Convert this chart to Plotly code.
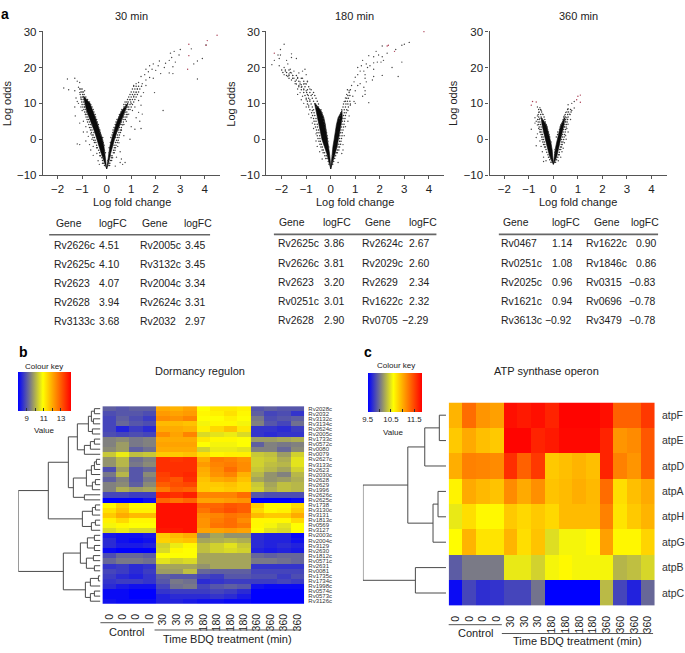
import plotly.graph_objects as go

W, H = 685, 653
TXT = "#222222"
FONT = "Liberation Sans, Arial, sans-serif"

# ---------- panel a: outline of the solid black core of each volcano arm (log odds rows, x read per arm)
y30_left = [-8.3,-6,-4,-2,0,2,4,6,8,10,12]
x30_left_outer = [0,-.13,-.22,-.31,-.39,-.49,-.6,-.72,-.82,-.89,-.95]
x30_left_inner = [0,-.04,-.07,-.11,-.17,-.26,-.36,-.46,-.56,-.68,-.93]
y30_right = [-8.3,-6,-4,-2,0,2,4,6,8,10]
x30_right_inner = [0,.05,.08,.13,.2,.28,.37,.48,.62,.85]
x30_right_outer = [0,.1,.16,.23,.32,.42,.52,.64,.76,.87]

y180_left = [-8.3,-6,-4,-2,0,2,4,6,8,10]
x180_left_outer = [0,-.08,-.16,-.26,-.36,-.42,-.48,-.54,-.6,-.66]
x180_left_inner = [0,-.02,-.05,-.09,-.13,-.17,-.22,-.28,-.4,-.64]
y180_right = [-8.3,-6,-4,-2,0,2,4,6,8]
x180_right_inner = [0,.03,.06,.09,.14,.18,.23,.3,.44]
x180_right_outer = [0,.1,.18,.26,.33,.37,.42,.47,.46]

y360_left = [-7,-5,-3,-1,0,2,4,6]
x360_left_outer = [0,-.14,-.22,-.3,-.34,-.4,-.46,-.5]
x360_left_inner = [0,-.02,-.05,-.1,-.13,-.2,-.28,-.48]
y360_right = [-7,-5,-3,-1,0,2,4,6]
x360_right_inner = [0,.03,.07,.13,.16,.22,.3,.45]
x360_right_outer = [0,.13,.2,.27,.31,.37,.43,.47]

# ---------- panel a: stippled halo around the arms, (log odds, [log fold changes])
halo30 = [(-7.3,[-.09,.06,.12,-.05]),(-6.7,[-.12,.13,-.17,.09]),(-5.9,[-.17,.16,.05,.2]),(-5.2,[-.2,-.14,.19,.24]),(-4.6,[-.25,-.28,.22,.17]),(-3.8,[-.29,-.05,.1,.27,.31]),(-3.1,[-.33,-.09,.28,.34]),(-2.4,[-.38,-.41,.31,.36,.1]),(-1.7,[-.41,-.11,.3,.38]),(-0.9,[-.44,-.5,-.14,.15,.36,.43]),(-0.3,[-.47,-.53,-.17,.4,.47]),(0.5,[-.5,-.56,-.16,.17,.43,.5,.36]),(1.2,[-.55,-.6,-.24,.22,.44,.52]),(1.9,[-.52,-.62,-.27,.25,.5,.56]),(2.6,[-.6,-.66,-.28,.26,.47,.55,.6]),(3.3,[-.64,-.7,-.33,.3,.52,.6]),(4.1,[-.65,-.73,-.34,.35,.55,.62,.7]),(4.8,[-.7,-.78,-.38,.38,.6,.68]),(5.5,[-.74,-.8,-.41,.42,.62,.7,.76]),(6.2,[-.77,-.84,-.45,.5,.68,.75,.82]),(6.9,[-.8,-.87,-.47,.52,.7,.8,.86]),(7.6,[-.83,-.9,-.52,.58,.74,.82]),(8.3,[-.85,-.93,-.55,.62,.78,.88,.95]),(9,[-.9,-.97,-.6,.7,.8,.9,1.0,.75]),(9.7,[-.92,-1.0,-.65,.7,.85,.95,1.05,.78]),(10.4,[-.95,-1.02,-.7,.75,.88,.98,1.1,.82]),(11.1,[-.96,-1.04,-.78,.85,.95,1.05,1.15]),(11.8,[-.98,-1.05,-.85,.9,1.0,1.1,1.2]),(12.5,[-.98,-1.08,-.92,.95,1.05,1.15,1.25]),(13.2,[-1.0,-.95,-1.05,1.0,1.1,1.2,1.3]),(14,[-1.05,-1.1,1.05,1.15,1.25,1.35]),(14.8,[1.1,1.2,1.3,1.42])]
halo180 = [(-7,[-.07,.08]),(-6.2,[-.1,.12,.05]),(-5.4,[-.15,-.2,.16]),(-4.6,[-.18,-.24,.2,.07]),(-3.8,[-.25,-.31,.23,.27]),(-3,[-.3,-.35,.27,.33]),(-2.2,[-.34,-.4,-.08,.3,.36]),(-1.4,[-.38,-.44,.33,.4]),(-.6,[-.42,-.48,-.12,.36,.42]),(.2,[-.44,-.52,-.13,.36,.44]),(1,[-.45,-.55,-.15,.37,.46]),(1.8,[-.48,-.56,-.17,.4,.47]),(2.6,[-.5,-.58,-.2,.42,.5]),(3.4,[-.54,-.62,-.22,.44,.52]),(4.2,[-.55,-.65,-.24,.46,.54]),(5,[-.6,-.68,-.28,.47,.56]),(5.8,[-.6,-.7,-.3,.5,.58,.35]),(6.6,[-.65,-.74,-.33,.52,.6,.38]),(7.4,[-.68,-.78,-.36,.55,.63,.42]),(8.2,[-.7,-.85,-.4,.55,.45,.65]),(9,[-.75,-.9,-.5,-.58,.5,.6,.72]),(9.8,[-.8,-.95,-.5,-.62,.52,.62,.7,.8]),(10.6,[-.85,-.95,-.55,-.7,.6,.68,.78]),(11.4,[-.9,-1,-.6,-.75,.65,.72]),(12.2,[-.92,-1.05,-.65,-.8,.7,.78]),(13,[-.98,-1.1,-.7,-.85,.75]),(13.8,[-.95,-1.1,-.8,-1.2,.8,.68]),(14.6,[-1.05,-1.18,-.9,-1.3]),(15.4,[-1.1,-1.25,-1.0,-1.4]),(16.2,[-1.1,-1.3,-1.45,-.95]),(17,[-1.35,-1.55,-1.2,-1.7]),(17.8,[-1.55,-1.7,-1.8,-1.4]),(18.6,[-1.8,-1.65,-1.95]),(19.3,[-1.85,-2.0,-1.7])]
halo360 = [(-6.4,[-.1,.09,-.05,.05]),(-5.7,[-.15,.13,-.08,.08]),(-5,[-.2,.18,-.12]),(-4.3,[-.22,.2,.24,.05]),(-3.6,[-.27,.24,.06]),(-2.9,[-.3,.26,.3,.07]),(-2.2,[-.32,-.36,.29,.33]),(-1.5,[-.35,-.4,.32,.36]),(-.8,[-.37,-.43,-.1,.34,.39]),(-.1,[-.4,-.46,.34,.42]),(.6,[-.42,-.48,-.15,.37,.44,.12]),(1.3,[-.45,-.5,-.18,.38,.46,.17]),(2,[-.47,-.53,-.2,.4,.48,.18]),(2.7,[-.5,-.55,-.24,.42,.5,.25]),(3.4,[-.5,-.58,-.26,.45,.52,.28]),(4.1,[-.52,-.6,-.3,.47,.54,.32]),(4.8,[-.55,-.62,-.33,.38,.5,.56]),(5.5,[-.58,-.64,-.35,-.45,.4,.5,.58]),(6.2,[-.6,-.5,-.38,.42,.5,.6]),(6.9,[-.62,-.52,-.42,.48,.58,.68]),(7.6,[-.58,-.48,.55,.62,.72]),(8.3,[-.6,-.52,.58,.7])]

# ---------- panel a: individual sparse points
sparse30 = [(4.05,26.3),(3.45,25.2),(3.9,22.5),(3.7,21.8),(3.55,21),(3.7,16.8),(3.0,25),(2.75,24.5),(2.6,24),(2.95,23.5),(2.65,22.8),(2.55,22),(2.8,21.5),(2.4,21.2),(2.15,21.8),(2.35,20),(2.7,20.2),(2.55,18.5),(2.7,18.3),(2.1,20.5),(1.9,21),(1.85,19.5),(1.75,20.5),(2.0,19.2),(2.2,18.3),(1.7,18.8),(1.6,19.5),(1.55,18),(1.4,17.5),(1.75,17.2),(2.3,8),(1.95,13),(1.6,15),(1.5,13),(1.4,12),(1.3,15.8),(1.2,15.5),(1.1,15),(1.25,14),(1.45,15.5),(1.6,16.5),(1.9,17),(1.2,13),(1.3,10.8),(1.4,9.5),(1.15,9),(1.3,7.5),(1.45,7),(1.2,6),(1.35,5),(1.4,3),(1.15,2.8),(0.95,0),(1.0,3.5),(0.9,7),(1.05,8),(0.95,11),(1.1,12),(1.0,10),(0.85,9),(0.8,5),(0.75,7.5),(0.65,4),(0.6,2.5),(0.7,1),(0.5,-1),(0.55,-3.5),(0.6,-5.5),(0.75,-6.5),(0.65,-7),(0.55,-6.5),(0.4,-5),(0.35,-7.5),(.45,-2),
            (-1.6,16.8),(-1.75,14.3),(-1.55,13.8),(-1.3,17),(-1.2,16.2),(-1.1,15.8),(-1.15,14.5),(-1.3,13.5),(-1.1,13),(-1.25,11.5),(-1.05,11.5),(-1.2,10.5),(-1.15,10),(-1.3,9),(-1.28,6.5),(-1.0,8),(-1.1,4.5),(-0.95,5),(-0.95,2),(-.85,3.5),(-1.2,-1.3),(-1.1,-1.5),(-0.85,-.5),(-.75,.8),(-.7,-1.5),(-.65,-3),(-.55,-2),(-.55,-4.5),(-.4,-4),(-.35,-6),(-.3,-7),(-1.0,14),(-.9,13.5),(-1.05,9),(-.85,7),(-.9,9),(-.8,2),(-.65,1.5),(-.6,4),(-.6,0)]
red30 = [(4.5,29),(4.1,27.5),(3.35,26.5),(3.35,23.3),(3.3,19.5),(4.05,26.2)]

sparse180 = [(3.2,27),(3.0,26.5),(2.9,26.2),(2.1,26),(2.65,25),(2.3,24),(1.85,24.5),(1.95,23.5),(2.1,23),(1.75,23),(1.55,23.3),(2.15,22),(2.05,21.5),(2.9,21.5),(1.9,21.5),(1.75,21.3),(1.3,22),(1.45,21),(1.6,20.5),(1.25,20.5),(1.5,20),(2.5,20),(1.75,19.5),(1.1,20),(1.2,19),(1.35,19),(1.4,18),(1.1,18),(2.1,17.8),(2.75,17.5),(1.75,17.5),(1.7,16.5),(1.4,17),(1,17.3),(0.95,16),(1.2,15.5),(1.45,16),(0.85,15),(1.1,15),(1.35,14.5),(1.4,13.5),(1.0,13.5),(0.75,13.5),(0.65,12.5),(1.4,12.5),(0.6,11.5),(0.9,12),(1.3,12),(0.55,10.5),(0.95,10.5),(1.55,10.2),(0.8,9.5),(1.0,10),(0.7,8),(0.75,6.5),(0.7,5),(0.6,3.5),(0.55,1),(.5,-1.5),(.45,-4),(.3,-6.5),(.5,-3),
             (-2.4,20.8),(-2.05,25),(-1.9,26.5),(-2.15,23.5),(-2.05,23.5),(-2.3,22),(-2.1,22.5),(-1.6,23.8),(-1.6,22.8),(-1.4,22.5),(-1.8,22),(-1.75,21),(-2.1,20.5),(-1.9,20),(-1.85,19),(-1.9,18),(-1.65,19.5),(-1.6,18.5),(-1.5,19),(-1.75,17.5),(-1.5,17),(-1.6,16.5),(-1.3,18.5),(-1.05,19.5),(-1.15,19),(-1.0,18),(-1.4,16.5),(-1.25,16),(-1.45,15.5),(-1.15,17),(-1.3,15),(-1.2,14.5),(-1.05,15.5),(-.95,16),(-1.1,14),(-1.25,13),(-1.0,13.5),(-1.35,12.5),(-1.15,12),(-1.2,11),(-1.0,11),(-.85,11),(-1.1,10),(-0.9,9.5),(-1.0,9),(-.9,7),(-.8,6),(-.75,4.5),(-.7,3),(-.6,1.5),(-.6,-.5),(-.55,-2),(-.45,-3.5),(-.35,-5.5),(-.75,8),(-1.7,18.2),(-1.55,17.8),(-1.35,17.2),(-1.2,15.2),(-1.35,14),(-.95,12.5),(-.85,14),(-.75,12.5)]
red180 = [(3.85,31),(3.8,30),(2.35,26.2),(2.3,26),(2.6,24.5),(-2.3,24)]

sparse360 = [(0.85,10.5),(0.75,10),(.6,9.6),(.85,8.7),(.75,8),(.6,8.5),(.5,7.5),(.65,7),(.45,6.5),(.55,6),(.7,5.5),(.5,5),(.6,4.2),(.45,3.5),(.55,3),(.6,2),(.5,1),(.52,0),(.45,-1),(.4,-2.5),(.35,-3.5),(.3,-5),(.2,-6),
             (-.65,9),(-.55,8.8),(-.5,8),(-.6,7.5),(-.45,7),(-.65,6.5),(-.75,6),(-.55,5.8),(-.7,5),(-.65,4),(-.75,4.5),(-.6,3),(-.55,2),(-.65,1.5),(-.9,2.8),(-.7,0.5),(-.55,-.5),(-.7,-1.8),(-.5,-2),(-.45,-3.5),(-.4,-5),(-.4,-6.2),(-.3,-6)]
red360 = [(1.1,12.3),(1.0,12),(1.1,10.3),(.95,11),(-.85,10.5),(-.9,9.5),(-.7,10.4)]

# ---------- tables
table30_gene1 = ["Rv2626c","Rv2625c","Rv2623","Rv2628","Rv3133c"]
table30_fc1 = ["4.51","4.10","4.07","3.94","3.68"]
table30_gene2 = ["Rv2005c","Rv3132c","Rv2004c","Rv2624c","Rv2032"]
table30_fc2 = ["3.45","3.45","3.34","3.31","2.97"]
table180_gene1 = ["Rv2625c","Rv2626c","Rv2623","Rv0251c","Rv2628"]
table180_fc1 = ["3.86","3.81","3.20","3.01","2.90"]
table180_gene2 = ["Rv2624c","Rv2029c","Rv2629","Rv1622c","Rv0705"]
table180_fc2 = ["2.67","2.60","2.34","2.32","\u22122.29"]
table360_gene1 = ["Rv0467","Rv0251c","Rv2025c","Rv1621c","Rv3613c"]
table360_fc1 = ["1.14","1.08","0.96","0.94","\u22120.92"]
table360_gene2 = ["Rv1622c","Rv1846c","Rv0315","Rv0696","Rv3479"]
table360_fc2 = ["0.90","0.86","\u22120.83","\u22120.78","\u22120.78"]

# ---------- heatmaps
time_labels = ["0","0","0","0","30","30","30","180","180","180","180","360","360","360","360"]
dormancy_genes = ["Rv2028c","Rv2032","Rv3132c","Rv3134c","Rv2624c","Rv2005c","Rv1733c","Rv0572c","Rv0080","Rv0079","Rv2627c","Rv3133c","Rv2623","Rv2030c","Rv2628","Rv2629","Rv1996","Rv2626c","Rv2625c","Rv1738","Rv3130c","Rv3131","Rv1813c","Rv0569","Rv3127","Rv2003c","Rv2004c","Rv3129","Rv2630","Rv1812c","Rv0571c","Rv2631","Rv0081","Rv1735c","Rv1734c","Rv1998c","Rv0574c","Rv0573c","Rv3126c"]
dormancy_values = [
 [9.1,9.0,9.1,9.1, 12.0,11.9,12.1, 10.9,11.2,11.2,11.1, 9.0,9.1,9.0,9.0],
 [8.9,9.0,9.0,8.9, 12.2,12.1,12.2, 11.0,11.1,11.3,11.0, 9.1,8.8,8.9,8.6],
 [8.8,9.1,8.9,8.7, 12.4,12.3,12.5, 10.9,10.9,11.1,10.9, 9.4,8.9,9.0,9.1],
 [8.8,9.2,9.0,8.9, 11.8,11.8,11.7, 10.8,11.0,11.0,10.8, 9.5,9.0,8.8,9.3],
 [8.8,8.4,8.7,8.5, 12.0,12.0,11.9, 11.1,11.4,11.7,11.2, 8.6,8.6,8.5,8.7],
 [8.9,8.8,8.9,8.8, 12.4,12.1,12.5, 10.5,10.6,10.7,10.5, 8.6,8.5,8.6,8.6],
 [9.5,9.6,9.4,9.5, 12.0,12.0,12.0, 11.2,11.0,11.0,10.9, 9.8,9.8,9.9,10.0],
 [9.5,9.8,9.4,9.5, 12.1,12.1,12.1, 10.9,10.8,10.8,10.9, 9.1,9.5,9.4,9.5],
 [9.6,9.8,9.1,9.3, 12.0,12.0,12.0, 10.4,10.7,10.7,10.6, 9.5,9.5,9.2,9.6],
 [10.3,10.7,10.2,10.3, 11.6,11.6,11.7, 11.3,11.0,11.1,11.1, 10.3,10.2,9.8,10.4],
 [9.7,10.1,9.3,9.5, 13.6,13.5,13.6, 12.0,12.6,12.5,12.3, 10.4,10.3,10.0,10.6],
 [9.7,10.1,9.4,9.6, 13.6,13.6,13.6, 12.2,12.5,12.6,12.4, 10.4,10.2,10.1,10.6],
 [8.9,9.8,9.0,9.2, 13.6,13.6,13.6, 12.0,12.4,12.8,12.4, 10.3,10.1,9.9,10.4],
 [9.4,10.1,9.0,9.6, 13.4,13.6,13.7, 11.9,12.3,12.5,11.9, 10.1,9.7,9.5,10.1],
 [9.1,9.5,9.0,9.4, 13.3,13.1,13.6, 11.7,12.0,12.1,11.7, 9.9,9.7,9.8,10.0],
 [9.5,9.6,9.1,9.6, 13.0,13.2,13.3, 11.6,11.6,11.7,11.5, 10.3,9.9,10.2,10.1],
 [9.5,10.0,9.8,9.9, 12.6,13.0,12.9, 11.6,11.5,11.6,11.5, 10.4,10.0,10.2,10.1],
 [8.8,8.8,8.7,8.7, 13.7,13.6,13.8, 12.5,12.5,12.5,12.8, 9.0,8.9,8.9,8.9],
 [8.0,8.0,8.0,8.2, 12.9,12.7,12.9, 12.1,12.1,12.2,12.3, 8.0,8.0,8.0,8.1],
 [11.0,11.5,11.0,11.0, 14.0,14.0,14.0, 12.9,12.9,13.1,13.0, 11.6,11.0,11.0,11.4],
 [11.3,11.7,11.1,11.1, 14.0,14.0,14.0, 12.7,13.0,13.2,13.0, 11.4,11.0,11.1,11.6],
 [11.6,12.0,11.8,11.8, 14.0,14.0,14.0, 12.4,12.5,12.7,12.6, 11.8,11.6,11.6,12.0],
 [11.1,11.4,11.0,11.0, 14.0,14.0,14.0, 12.3,12.6,12.8,12.4, 11.0,11.0,11.0,11.4],
 [10.8,11.0,10.9,10.9, 14.0,14.0,14.0, 12.3,12.7,12.8,12.6, 11.0,10.8,10.6,10.9],
 [10.5,10.7,10.5,10.5, 13.9,13.9,14.0, 12.1,12.1,12.2,12.1, 10.9,10.6,10.5,10.9],
 [8.3,8.2,8.2,8.3, 11.6,11.8,12.0, 9.6,9.9,9.7,9.7, 8.5,8.4,8.4,8.1],
 [8.5,8.2,8.1,8.2, 11.5,11.6,11.7, 9.9,10.0,10.1,10.0, 8.5,8.4,8.4,8.2],
 [8.5,8.3,8.3,8.4, 10.4,10.7,11.0, 10.2,10.4,10.6,10.3, 8.5,8.4,8.5,8.4],
 [8.1,8.0,8.0,8.0, 10.5,11.0,10.9, 10.2,10.4,10.5,10.4, 8.4,8.3,8.4,8.3],
 [8.9,9.2,9.2,9.1, 10.9,10.9,10.9, 9.9,9.9,9.9,9.9, 9.2,9.1,9.2,9.2],
 [9.2,9.4,9.4,9.3, 10.6,10.4,10.5, 9.9,9.9,9.9,9.9, 9.4,9.4,9.3,9.2],
 [8.6,8.7,8.5,8.6, 9.9,9.9,9.9, 9.7,9.9,9.9,9.9, 8.6,8.6,8.6,8.6],
 [8.8,8.7,8.5,8.7, 9.8,9.8,10.2, 9.2,9.1,9.1,9.1, 8.8,8.8,8.8,8.8],
 [8.7,8.5,8.4,8.6, 9.1,9.0,9.0, 8.8,8.7,9.0,9.0, 8.9,8.9,8.7,8.9],
 [8.6,8.7,8.7,8.6, 9.0,9.4,9.3, 8.5,8.6,8.7,8.7, 8.7,8.7,8.8,8.7],
 [8.5,8.3,8.2,8.2, 8.8,9.3,9.4, 8.8,9.0,9.1,9.0, 8.2,8.1,8.1,8.1],
 [8.1,8.1,8.0,8.0, 8.6,8.7,8.7, 8.7,8.8,8.7,8.5, 8.0,8.0,8.0,8.0],
 [8.1,8.1,8.0,8.0, 8.4,8.5,8.5, 8.5,8.6,8.5,8.3, 8.0,8.0,8.0,8.0],
 [8.2,8.1,8.1,8.1, 8.4,8.4,8.3, 8.2,8.2,8.1,8.1, 8.0,8.0,8.0,8.0],
]
atp_genes = ["atpF","atpE","atpD","atpA","atpH","atpG","atpB","atpC"]
atp_values = [
 [10.95,11.3,11.1,11.05, 11.75,11.7,11.75, 11.65,11.8,11.8,11.8, 11.75, 11.35,11.35,11.55],
 [10.85,11.0,10.9,10.85, 11.8,11.8,11.65, 11.7,11.78,11.78,11.78, 11.65, 11.1,11.15,11.4],
 [10.98,11.2,11.18,11.15, 11.6,11.35,11.55, 10.85,10.9,10.95,10.9, 11.65, 11.2,11.1,11.4],
 [10.65,11.0,10.93,10.88, 11.15,11.0,11.13, 10.88,10.92,10.98,10.93, 11.3, 10.75,10.9,11.0],
 [10.5,10.75,10.62,10.62, 10.85,10.78,10.85, 10.78,10.92,10.92,10.92, 11.2, 10.72,10.85,10.95],
 [10.6,10.95,10.72,10.72, 10.95,10.75,10.88, 10.45,10.55,10.55,10.62, 11.05, 10.63,10.63,10.8],
 [9.9,10.03,10.03,10.03, 10.5,10.5,10.4, 10.55,10.62,10.55,10.55, 10.55, 10.28,10.32,10.42],
 [9.55,9.8,9.7,9.72, 9.8,9.8,10.0, 9.5,9.5,9.5,9.5, 10.3, 9.8,9.65,9.95],
]
dormancy_tree = (82,
  (52,
    (32,
      (23,
        (12,(9,(6,0,1),(7,2,3)),(8,4,5)),
        (16,(10,(6,6,7),8),9)),
      (27,
        (14,(9,(6,(4,10,11),12),13),(8,(5,14,15),16)),
        (16,17,18))),
    (18,(8,(5,19,20),21),(9,(5,22,23),24))),
  (37,
    (20,(13,(6,25,26),(6,27,28)),(14,(7,29,30),(6,31,32))),
    (15,(10,(2,33,34),35),(10,(6,36,37),38))))
atp_tree = (83.3,
  (38.3,(21.3,(6.7,0,1),2),(13,(8,3,4),5)),
  (30.7,6,7))

colorscale = [[0,"#0000ff"],[0.24,"#808080"],[0.47,"#ffff00"],[1,"#ff0000"]]


def fx(p): return p / W
def fy(p): return 1 - p / H


fig = go.Figure()
annotations = []
shapes = []


def text(x, y, s, size=11, anchor="center", bold=False, angle=0, color=TXT):
    annotations.append(dict(x=fx(x), y=fy(y), xref="paper", yref="paper", text=f"<b>{s}</b>" if bold else s,
                            showarrow=False, xanchor=anchor, yanchor="middle", textangle=angle,
                            font=dict(size=size, color=color, family=FONT)))


def rule(x0, x1, y, color="#555555", width=1.0):
    shapes.append(dict(type="line", xref="paper", yref="paper", x0=fx(x0), x1=fx(x1), y0=fy(y), y1=fy(y),
                       line=dict(color=color, width=width)))


def pair(pts):
    return [p[0] for p in pts], [p[1] for p in pts]


def expand(rows):
    return [x for _, xs in rows for x in xs], [y for y, xs in rows for _ in xs]


# ---------- volcano panels
volcano_geom = [(43, 107, 221, 132, 7, "30 min"), (267, 331.7, 445, 356, 232, "180 min"), (491, 555, 669, 580, 455, "360 min")]
volcano_data = [
    ([(x30_left_outer, x30_left_inner, y30_left), (x30_right_inner, x30_right_outer, y30_right)], halo30, sparse30, red30),
    ([(x180_left_outer, x180_left_inner, y180_left), (x180_right_inner, x180_right_outer, y180_right)], halo180, sparse180, red180),
    ([(x360_left_outer, x360_left_inner, y360_left), (x360_right_inner, x360_right_outer, y360_right)], halo360, sparse360, red360),
]
layout_axes = {}
PXU = 24.6
for i, ((left, zero, right, center, ylab, title), (core, halo, sparse, red)) in enumerate(zip(volcano_geom, volcano_data), start=1):
    xa, ya = f"x{i}", f"y{i}"
    for c0, c1, cy in core:
        fig.add_trace(go.Scatter(x=c0 + c1[::-1], y=cy + cy[::-1], xaxis=xa, yaxis=ya, mode="lines", fill="toself",
                                 fillcolor="#0a0a0a", line=dict(color="#0a0a0a", width=0.6), hoverinfo="skip"))
    hx, hy = expand(halo)
    fig.add_trace(go.Scatter(x=hx, y=hy, xaxis=xa, yaxis=ya, mode="markers", hoverinfo="skip",
                             marker=dict(size=1.5, color="#333333")))
    sx, sy = pair(sparse)
    fig.add_trace(go.Scatter(x=sx, y=sy, xaxis=xa, yaxis=ya, mode="markers", hoverinfo="skip",
                             marker=dict(size=1.4, color="#444444")))
    rx, ry = pair(red)
    fig.add_trace(go.Scatter(x=rx, y=ry, xaxis=xa, yaxis=ya, mode="markers", hoverinfo="skip",
                             marker=dict(size=1.4, color="#a83a50")))
    common = dict(showgrid=False, zeroline=False, showline=True, linecolor="#555555", linewidth=1.2,
                  ticks="outside", ticklen=3, tickcolor="#555555", tickwidth=1,
                  tickfont=dict(size=11.5, color=TXT, family=FONT))
    layout_axes[f"xaxis{i}"] = dict(domain=[fx(left), fx(right)], anchor=ya,
                                    range=[(left - zero) / PXU, (right - zero) / PXU],
                                    tickvals=[-2, -1, 0, 1, 2, 3, 4], **common)
    layout_axes[f"yaxis{i}"] = dict(domain=[fy(173), fy(26)], anchor=xa, range=[-10, 30.3],
                                    tickvals=[-10, 0, 10, 20, 30], **common)
    text(center, 10.7, title)
    text(center, 200, "Log fold change")
    text(ylab, 100, "Log odds", angle=-90)

text(5, 9, "a", size=14, bold=True, color="#000000")
text(24, 353, "b", size=14, bold=True, color="#000000")
text(369, 353, "c", size=14, bold=True, color="#000000")

# ---------- tables
TS = 10.4
table_geom = [
    dict(rule=(49.3, 210.7), rule_y=233.7, head_y=222.3, rows=[244.3, 263.7, 283, 302.3, 321.7],
         head=(53.7, 97, 140.3, 182.7), cols=(52.3, 121, 138, 208)),
    dict(rule=(274.7, 437.7), rule_y=233.3, head_y=221.7, rows=[242.8, 262.5, 282.3, 301.7, 321],
         head=(278.3, 322.3, 364.3, 407.7), cols=(277.3, 346.7, 360.7, 432.3)),
    dict(rule=(500.3, 660), rule_y=233.3, head_y=221.7, rows=[242.8, 262.5, 282.3, 301.7, 321],
         head=(502.3, 551.7, 593.3, 630.7), cols=(500.3, 576, 585.7, 660)),
]
tables = [(table30_gene1, table30_fc1, table30_gene2, table30_fc2),
          (table180_gene1, table180_fc1, table180_gene2, table180_fc2),
          (table360_gene1, table360_fc1, table360_gene2, table360_fc2)]
for g, (g1, f1, g2, f2) in zip(table_geom, tables):
    for hx_, s in zip(g["head"], ["Gene", "logFC", "Gene", "logFC"]):
        text(hx_, g["head_y"], s, anchor="left", size=TS)
    rule(g["rule"][0], g["rule"][1], g["rule_y"], color="#666666", width=1.6)
    for k, ry in enumerate(g["rows"]):
        c = g["cols"]
        text(c[0], ry, g1[k], anchor="left", size=TS)
        text(c[1], ry, f1[k], anchor="right", size=TS)
        text(c[2], ry, g2[k], anchor="left", size=TS)
        text(c[3], ry, f2[k], anchor="right", size=TS)


# ---------- dendrograms
def walk(node, xs, ys):
    if isinstance(node, int):
        return 0.0, float(node)
    h, a, b = node
    ha, ya = walk(a, xs, ys)
    hb, yb = walk(b, xs, ys)
    xs.extend([ha, h, h, hb, None])
    ys.extend([ya, ya, yb, yb, None])
    return h, (ya + yb) / 2


# ---------- heatmaps
def heat(idx_heat, idx_dend, z, genes, tree, geom, caxis, tick_size, ystand):
    hx0, hx1, hy0, hy1, dx0, dx1 = geom
    n = len(genes)
    xh, yh = f"x{idx_heat}", f"y{idx_heat}"
    fig.add_trace(go.Heatmap(z=z, x=list(range(15)), y=list(range(n)), xaxis=xh, yaxis=yh,
                             coloraxis=caxis, hoverinfo="skip", xgap=0, ygap=0))
    layout_axes[f"xaxis{idx_heat}"] = dict(domain=[fx(hx0), fx(hx1)], anchor=yh, range=[-0.5, 14.5],
                                           tickmode="array", tickvals=list(range(15)), ticktext=time_labels,
                                           tickangle=-90, ticks="outside", ticklen=ystand, tickcolor="rgba(0,0,0,0)",
                                           tickfont=dict(size=10.5, color=TXT, family=FONT),
                                           showgrid=False, zeroline=False, showline=False)
    layout_axes[f"yaxis{idx_heat}"] = dict(domain=[fy(hy1), fy(hy0)], anchor=xh, range=[n - 0.5, -0.5], side="right",
                                           tickmode="array", tickvals=list(range(n)), ticktext=genes,
                                           ticks="outside", ticklen=2 if n > 10 else 4, tickcolor="rgba(0,0,0,0)",
                                           tickfont=dict(size=tick_size, color="#333333", family=FONT),
                                           showgrid=False, zeroline=False, showline=False)
    xs, ys = [], []
    walk(tree, xs, ys)
    xd, yd = f"x{idx_dend}", f"y{idx_dend}"
    fig.add_trace(go.Scatter(x=xs, y=ys, xaxis=xd, yaxis=yd, mode="lines", hoverinfo="skip",
                             line=dict(color="#4a4a4a", width=1)))
    layout_axes[f"xaxis{idx_dend}"] = dict(domain=[fx(dx0), fx(dx1)], anchor=yd, range=[tree[0], 0], visible=False)
    layout_axes[f"yaxis{idx_dend}"] = dict(domain=[fy(hy1), fy(hy0)], anchor=xd, range=[n - 0.5, -0.5], visible=False)


heat(4, 5, dormancy_values, dormancy_genes, dormancy_tree, (102.7, 305, 408, 609, 18.3, 100.7), "coloraxis", 6.0, 5)
heat(6, 7, atp_values, atp_genes, atp_tree, (450, 656.7, 404.3, 611, 364, 447.3), "coloraxis2", 10.5, 5)


def key(x0, x1, y0, y1, cmin, cmax, vals, labels):
    return dict(cmin=cmin, cmax=cmax, colorscale=colorscale,
                colorbar=dict(orientation="h", x=fx(x0), xanchor="left", y=fy(y0), yanchor="top",
                              lenmode="pixels", len=x1 - x0, thicknessmode="pixels", thickness=y1 - y0,
                              xpad=0, ypad=0, ticks="inside", ticklen=3, tickwidth=1, tickcolor="#333333",
                              tickvals=vals, ticktext=labels, outlinewidth=0,
                              tickfont=dict(size=7.8, color=TXT, family=FONT)))


text(44, 367.7, "Colour key", size=8)
text(44, 433, "Value", size=8)
text(396.7, 366.7, "Colour key", size=8)
text(394, 435.3, "Value", size=8)

text(201, 372, "Dormancy regulon")
text(548, 372, "ATP synthase operon")

rule(100.7, 154, 628.3)
text(127.3, 637.7, "Control")
rule(155, 301.7, 635.7)
text(228.3, 645.3, "Time BDQ treatment (min)")
rule(450, 503.3, 630.3)
text(476.7, 639, "Control")
rule(503.3, 655, 639.3)
text(579.3, 647, "Time BDQ treatment (min)")

fig.update_layout(width=W, height=H, margin=dict(l=0, r=0, t=0, b=0), paper_bgcolor="white", plot_bgcolor="white",
                  showlegend=False, annotations=annotations, shapes=shapes, font=dict(family=FONT),
                  coloraxis=key(18.3, 71.7, 373, 412, 8.0, 14.2, [9, 10, 11, 12, 13], ["9", "", "11", "", "13"]),
                  coloraxis2=key(368.7, 422.7, 374.7, 413.3, 9.5, 11.82, [9.5, 10, 10.5, 11, 11.5], ["9.5", "", "10.5", "", "11.5"]),
                  **layout_axes)

fig.write_html("out.html", config={"displayModeBar": False},
               post_script="document.body.style.margin='0';")
